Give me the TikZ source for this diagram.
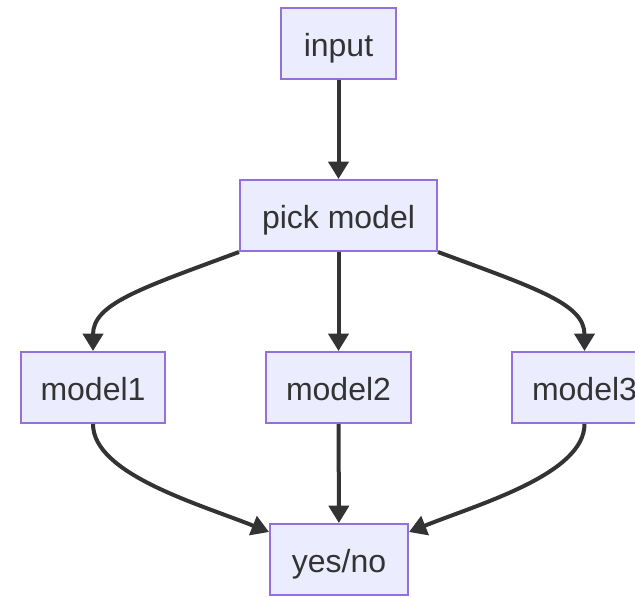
\documentclass[tikz,border=0pt]{standalone}
\usepackage{fontspec}
\setmainfont{Liberation Sans}
\usetikzlibrary{arrows.meta,calc}
\definecolor{nodefill}{HTML}{ECECFF}
\definecolor{nodeborder}{HTML}{9370DB}
\definecolor{ink}{HTML}{333333}
\begin{document}
\begin{tikzpicture}[x=0.75pt,y=-0.75pt,
  box/.style={draw=nodeborder,fill=nodefill,line width=1.5pt,inner sep=0pt,
    minimum height=53.25pt,text=ink,font=\fontsize{24}{28}\selectfont,
    text height=19pt,text depth=0pt},
  edge/.style={draw=ink,line width=3pt,-{Triangle[length=13pt,width=15pt]}}]
\useasboundingbox (0,0) rectangle (635,598);
\node[box,minimum width=86.25pt] (input) at (338.5,43.5) {input};
\node[box,minimum width=147.75pt] (pick) at (338.5,215.5) {pick model};
\node[box,minimum width=108pt] (m1) at (93,387.5) {model1};
\node[box,minimum width=108.75pt] (m2) at (338.5,387.5) {model2};
\node[box,minimum width=108.75pt] (m3) at (584.5,387.5) {model3};
\node[box,minimum width=103.5pt] (yes) at (339,559.5) {yes/no};
\draw[edge] (input) -- (pick);
\draw[edge] (pick) -- (m2);
\draw[edge] (m2) -- (yes);
\draw[edge] (pick.south west) .. controls +(-100,37) and +(0,-47) .. (m1.north);
\draw[edge] (pick.south east) .. controls +(100,37) and +(0,-47) .. (m3.north);
\coordinate (yl) at ([yshift=-6.75pt]yes.north west);
\coordinate (yr) at ([yshift=-6.75pt]yes.north east);
\draw[edge] (m1.south) .. controls +(0,50) and +(-70,-28) .. (yl);
\draw[edge] (m3.south) .. controls +(0,50) and +(70,-28) .. (yr);
\end{tikzpicture}
\end{document}
